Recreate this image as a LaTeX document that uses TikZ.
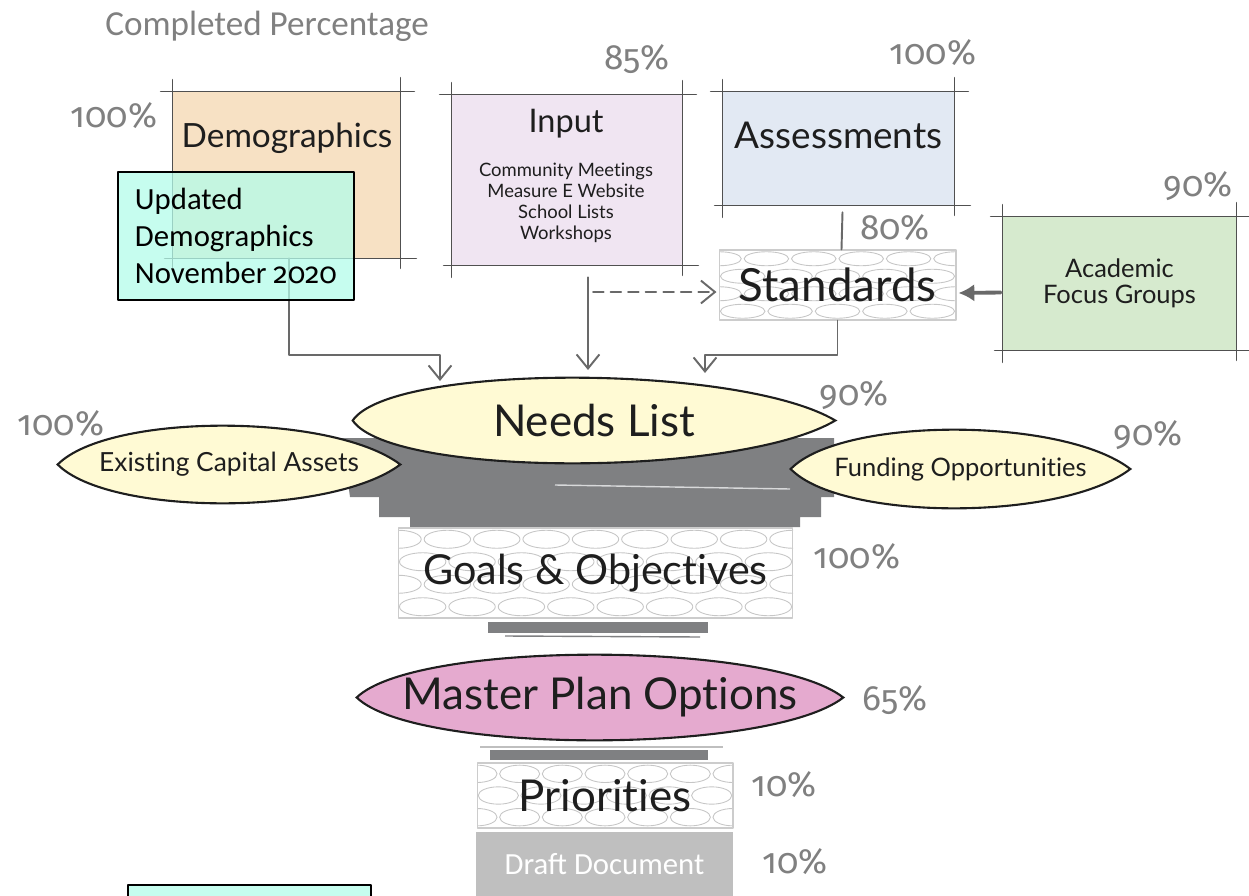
\documentclass[tikz,border=0pt]{standalone}
\usepackage{fontspec}
\setmainfont{Carlito}
\newfontfamily\handfont{Lato}[Ligatures=NoCommon]
\newfontfamily\pctfont{Fira Sans}[Numbers=OldStyle]
\usepackage{tikz}
\usetikzlibrary{calc, arrows.meta, backgrounds}
\definecolor{pctGray}{RGB}{128, 128, 128}
\definecolor{boxLine}{RGB}{80, 80, 80}
\definecolor{inkBlack}{RGB}{30, 30, 30}
\definecolor{demoFill}{RGB}{247, 225, 196}
\definecolor{inputFill}{RGB}{240, 229, 242}
\definecolor{assessFill}{RGB}{226, 233, 243}
\definecolor{acadFill}{RGB}{214, 234, 206}
\definecolor{noteFill}{RGB}{179, 252, 234}
\definecolor{leafFill}{RGB}{255, 250, 212}
\definecolor{planFill}{RGB}{229, 170, 207}
\definecolor{smudgeGray}{RGB}{127, 128, 130}
\definecolor{draftGray}{RGB}{191, 191, 191}
\definecolor{linkGray}{RGB}{105, 105, 105}
\tikzset{
    title/.style={
        font=\fontsize{20}{20}\selectfont,
        text=pctGray,
        inner sep=0pt
    },
    pct/.style={
        font=\pctfont\fontsize{20}{20}\selectfont,
        text=pctGray,
        inner sep=0pt
    },
    hand/.style={
        font=\handfont\fontsize{#1}{#1}\selectfont,
        text=inkBlack,
        inner sep=0pt,
        align=center
    },
    panel/.style={
        rectangle,
        draw=none,
        inner sep=0pt
    },
    crop/.style={
        draw=boxLine,
        line width=0.9pt
    },
    brickbox/.style={
        rectangle,
        draw=gray!40,
        line width=0.6pt,
        inner sep=0pt
    },
    brick/.style={
        draw=gray!45,
        line width=0.5pt
    },
    leafbox/.style={
        rectangle,
        draw=none,
        inner sep=0pt
    },
    leafline/.style={
        draw=inkBlack,
        line width=1.2pt
    },
    note/.style={
        rectangle,
        draw=black,
        line width=0.9pt,
        fill=noteFill,
        fill opacity=0.75,
        draw opacity=1,
        text opacity=1,
        text=black,
        inner sep=0pt,
        align=left,
        minimum width=4.72cm,
        minimum height=2.56cm,
        font=\fontsize{17.5}{21}\selectfont
    },
    draftbox/.style={
        rectangle,
        fill=draftGray,
        text=white,
        inner sep=0pt,
        font=\fontsize{17.5}{17.5}\selectfont
    },
    smudge/.style={
        fill=smudgeGray,
        draw=none
    },
    link/.style={
        draw=linkGray,
        line width=1.1pt,
        -{Straight Barb[length=8pt, width=13pt]}
    },
    dashlink/.style={
        link,
        dash pattern=on 6pt off 4pt
    },
    plainlink/.style={
        draw=linkGray,
        line width=1.1pt
    },
    fatlink/.style={
        draw=linkGray,
        line width=2.2pt,
        -{Latex[length=9pt, width=10pt]}
    }
}
% crop lines round a panel
\newcommand{\cropmarks}[1]{%
    \draw[crop] ($(#1.north west)+(-12,0)$) -- ($(#1.north east)+(14,0)$);
    \draw[crop] ($(#1.south west)+(-8,0)$) -- ($(#1.south east)+(16,0)$);
    \draw[crop] ($(#1.north west)+(0,-12)$) -- ($(#1.south west)+(0,12)$);
    \draw[crop] ($(#1.north east)+(0,-14)$) -- ($(#1.south east)+(0,10)$);
}
% pointed ellipse behind a leaf node
\newcommand{\leafpath}[4]{%
    \path[leafline, fill=#2]
        (#1.west)
        .. controls ($(#1.north west)!#3!(#1.north east)+0.333*(#1.north)-0.333*(#1.center)$)
        and ($(#1.north east)!#4!(#1.north west)+0.333*(#1.north)-0.333*(#1.center)$) .. (#1.east)
        .. controls ($(#1.south east)!#4!(#1.south west)+0.333*(#1.south)-0.333*(#1.center)$)
        and ($(#1.south west)!#3!(#1.south east)+0.333*(#1.south)-0.333*(#1.center)$) .. (#1.west)
        -- cycle;
}
% stone texture in a box
\newcommand{\bricks}[6]{%
    \begin{scope}
        \clip (#1,#2) rectangle (#3,#4);
        \pgfmathsetmacro{\brw}{(#3-#1)/#5}
        \pgfmathsetmacro{\brh}{(#4-#2)/#6}
        \foreach \r in {1,...,#6}{
            \foreach \c in {-1,...,#5}{
                \pgfmathsetmacro{\brx}{#1+(\c+0.5+0.5*mod(\r,2))*\brw}
                \pgfmathsetmacro{\bry}{#2+(\r-0.5)*\brh}
                \draw[brick] (\brx,\bry) ellipse [x radius={0.47*\brw}, y radius={0.4*\brh}];
            }
        }
    \end{scope}
}

\begin{document}
\begin{tikzpicture}[x=0.02cm, y=-0.02cm, line join=round, line cap=round]
    \useasboundingbox (0,0) rectangle (1249,896);

    % Title
    \node[title, anchor=west] (title) at (105,26) {Completed Percentage};

    % Panels
    \node[panel, fill=demoFill, minimum width=4.54cm, minimum height=3.32cm] (demo) at (286.5,175) {};
    \node[panel, fill=inputFill, minimum width=4.6cm, minimum height=3.4cm] (input) at (567,180) {};
    \node[panel, fill=assessFill, minimum width=4.62cm, minimum height=2.26cm] (assess) at (838.5,148.5) {};
    \node[panel, fill=acadFill, minimum width=4.66cm, minimum height=2.66cm, hand=14.5,
        font=\handfont\fontsize{14.5}{14.7}\selectfont] (acad) at (1119.5,283.5) {Academic\\Focus Groups};
    \cropmarks{demo}
    \cropmarks{input}
    \cropmarks{assess}
    \cropmarks{acad}

    % Panel texts
    \node[hand=19] (demotext) at (287,138) {Demographics};
    \node[hand=18.5] (inputtext) at (566,124) {Input};
    \node[hand=10.5, font=\handfont\fontsize{10.5}{12}\selectfont] (inputitems) at (566,203)
        {Community Meetings\\Measure E Website\\School Lists\\Workshops};
    \node[hand=21] (assesstext) at (838.5,135.5) {Assessments};

    % Stone boxes
    \node[brickbox, minimum width=4.74cm, minimum height=1.4cm, hand=26] (stand) at (837.5,285) {Standards};
    \node[brickbox, minimum width=7.9cm, minimum height=1.8cm, hand=23.5] (goals) at (595.5,573) {Goals \& Objectives};
    \node[brickbox, minimum width=5.12cm, minimum height=1.3cm, hand=25] (prior) at (605,795.5) {Priorities};
    \node[draftbox, minimum width=5.14cm, minimum height=1.28cm] (draft) at (604.5,864) {Draft Document};

    % Leaves
    \node[leafbox, minimum width=9.64cm, minimum height=1.7cm, hand=25] (needs) at (594,420.5) {Needs List};
    \node[leafbox, minimum width=6.84cm, minimum height=1.54cm, hand=15] (assets) at (229,464.5) {Existing Capital Assets};
    \node[leafbox, minimum width=6.78cm, minimum height=1.56cm, hand=14.5] (funding) at (960.5,469) {Funding Opportunities};
    \node[leafbox, minimum width=9.72cm, minimum height=1.7cm, hand=25] (master) at (600,697.5) {Master Plan Options};

    \begin{scope}[on background layer]
        % Smudges
        \fill[smudge] (342,438) -- (834,438) -- (834,497) -- (821,497) -- (821,517) -- (800,517)
            -- (800,527) -- (410,527) -- (410,517) -- (379,517) -- (379,497) -- (350,497) -- cycle;
        \draw[white!70!smudgeGray, line width=0.8pt] (555,485) -- (790,489);
        \fill[smudge] (488,622) rectangle (708,633);
        \draw[smudgeGray, line width=0.8pt] (505,636) -- (700,637);
        \fill[smudge] (490,750) rectangle (708,760);
        \draw[gray!50, line width=0.6pt] (480,747) -- (723,747);

        \leafpath{assets}{leafFill}{0.15}{0.2}
        \leafpath{funding}{leafFill}{0.15}{0.2}
        \leafpath{needs}{leafFill}{0.08}{0.2}
        \leafpath{master}{planFill}{0.12}{0.15}

        \bricks{719}{250}{956}{320}{5}{4}
        \bricks{398}{528}{793}{618}{8}{4}
        \bricks{477}{763}{733}{828}{6}{3}
    \end{scope}

    % Connectors
    \coordinate (inA) at (440,381);
    \coordinate (inB) at (588,370);
    \coordinate (inC) at (705,373);
    \draw[link] ($(demo.south)+(2.5,0)$) |- ($(inA)+(0,-26)$) -- (inA);
    \draw[link] ($(input.south -| inB)+(0,12)$) -- (inB);
    \draw[dashlink] ($(inB |- stand.west)+(5,7)$) -- ($(stand.west)+(-2,7)$);
    \draw[link] (stand.south) |- ($(inC)+(0,-18)$) -- (inC);
    \draw[plainlink] ($(assess.south)+(4,7)$) -- ($(stand.north)+(4,0)$);
    \draw[fatlink] ($(acad.west)+(-2,9)$) -- ($(stand.east)+(2,8)$);

    % Notes
    \node[note] (note) at (236,236) {Updated\\Demographics\\November {\pctfont\fontsize{16.5}{21}\selectfont 2020}};
    \node[note, anchor=north west, minimum width=4.86cm, minimum height=1cm] (note2) at (127,884) {};

    % Percentages
    \node[pct] (pdemo) at (114,116) {100\%};
    \node[pct] (pinput) at (637,59) {85\%};
    \node[pct] (passess) at (933,53) {100\%};
    \node[pct] (pstand) at (895,228) {80\%};
    \node[pct] (pacad) at (1198,186) {90\%};
    \node[pct] (pneeds) at (854,395) {90\%};
    \node[pct] (passets) at (61,424) {100\%};
    \node[pct] (pfund) at (1148,435) {90\%};
    \node[pct] (pgoals) at (857,557) {100\%};
    \node[pct] (pmaster) at (895,700) {65\%};
    \node[pct] (pprior) at (784,785) {10\%};
    \node[pct] (pdraft) at (795,862) {10\%};
\end{tikzpicture}
\end{document}
